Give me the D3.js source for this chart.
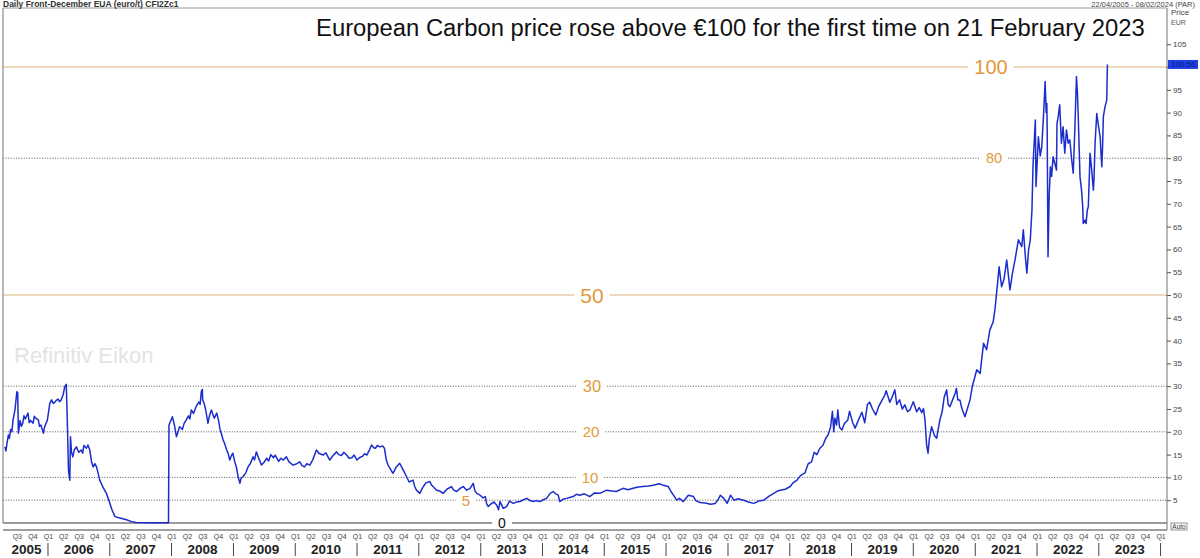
<!DOCTYPE html>
<html><head><meta charset="utf-8">
<script src="https://cdn.jsdelivr.net/npm/d3@7"></script>
<style>
body{margin:0;background:#fff;}
svg{display:block;font-family:Arial,"Liberation Sans",sans-serif;}
</style>
</head><body>
<svg id="c" width="1200" height="558"></svg>
<script>
// ---------- DATA ----------
const phase1 = [["2005-04-22",16.7],["2005-04-28",15.8],["2005-05-02",17.0],["2005-05-12",19.3],["2005-05-18",18.6],["2005-05-25",20.5],["2005-06-02",20.0],["2005-06-08",22.5],["2005-06-20",24.8],["2005-07-01",28.8],["2005-07-06",28.6],["2005-07-10",19.7],["2005-07-15",21.0],["2005-07-20",22.5],["2005-07-28",21.2],["2005-08-05",21.9],["2005-08-12",23.5],["2005-08-20",22.8],["2005-09-05",24.1],["2005-09-12",22.0],["2005-09-20",22.5],["2005-10-05",21.9],["2005-10-12",23.4],["2005-10-20",23.0],["2005-11-05",22.6],["2005-11-12",21.2],["2005-11-20",21.5],["2005-12-05",19.7],["2005-12-12",21.1],["2005-12-28",22.5],["2006-01-05",24.5],["2006-01-12",26.3],["2006-01-22",27.0],["2006-02-01",26.2],["2006-02-10",26.5],["2006-02-20",26.9],["2006-03-01",27.2],["2006-03-10",26.6],["2006-03-20",27.0],["2006-04-01",28.2],["2006-04-10",29.9],["2006-04-19",30.4],["2006-04-24",24.0],["2006-04-27",19.7],["2006-05-02",11.6],["2006-05-10",9.4],["2006-05-14",18.9],["2006-05-20",15.5],["2006-05-28",14.5],["2006-06-05",16.0],["2006-06-18",16.7],["2006-06-28",15.8],["2006-07-01",15.5],["2006-07-16",16.0],["2006-07-25",15.3],["2006-08-01",17.0],["2006-08-16",16.4],["2006-08-25",17.1],["2006-09-05",16.0],["2006-09-15",13.5],["2006-09-25",12.3],["2006-10-05",13.0],["2006-10-15",12.3],["2006-11-03",9.4],["2006-11-20",8.0],["2006-12-12",6.5],["2007-01-01",4.4],["2007-01-15",2.8],["2007-02-01",1.4],["2007-03-01",1.1],["2007-04-10",0.7],["2007-05-10",0.3],["2007-06-06",0.1],["2007-09-01",0.06],["2007-12-14",0.03]];
const phase2 = [["2007-12-17",21.5],["2008-01-06",23.3],["2008-01-18",21.5],["2008-01-30",18.9],["2008-02-10",20.2],["2008-02-18",21.1],["2008-03-05",20.5],["2008-03-15",21.8],["2008-03-28",22.6],["2008-04-10",23.5],["2008-04-18",22.8],["2008-04-27",24.8],["2008-05-10",24.0],["2008-05-25",25.5],["2008-06-10",26.5],["2008-06-18",26.0],["2008-06-25",28.8],["2008-07-01",29.3],["2008-07-03",27.0],["2008-07-12",26.2],["2008-07-20",25.0],["2008-08-03",21.9],["2008-08-12",23.5],["2008-08-24",24.8],["2008-09-03",23.6],["2008-09-10",23.0],["2008-09-24",24.1],["2008-10-05",22.5],["2008-10-12",20.8],["2008-10-22",19.5],["2008-11-01",18.2],["2008-11-10",17.4],["2008-11-22",16.0],["2008-12-01",15.2],["2008-12-10",13.8],["2008-12-20",14.8],["2008-12-28",15.3],["2009-01-08",13.5],["2009-01-18",12.3],["2009-01-28",10.2],["2009-02-08",8.7],["2009-02-15",9.8],["2009-02-27",10.2],["2009-03-15",11.0],["2009-03-28",12.3],["2009-04-10",13.0],["2009-04-27",14.5],["2009-05-05",13.8],["2009-05-16",15.6],["2009-06-01",14.0],["2009-06-16",12.7],["2009-07-01",13.3],["2009-07-16",14.2],["2009-07-28",13.6],["2009-08-10",15.0],["2009-08-25",14.3],["2009-09-04",14.9],["2009-09-25",13.5],["2009-10-08",14.2],["2009-10-22",13.8],["2009-11-10",14.5],["2009-11-25",13.4],["2009-12-19",12.7],["2010-01-10",13.0],["2010-01-28",13.4],["2010-02-10",12.6],["2010-02-25",12.3],["2010-03-10",13.0],["2010-03-28",12.7],["2010-04-15",13.9],["2010-05-06",16.0],["2010-05-20",15.3],["2010-06-15",14.9],["2010-07-01",15.4],["2010-07-24",13.8],["2010-08-10",14.7],["2010-09-02",15.6],["2010-09-15",15.0],["2010-10-01",14.8],["2010-10-15",15.5],["2010-11-01",14.9],["2010-11-15",14.2],["2010-12-01",14.3],["2010-12-15",14.9],["2011-01-01",13.8],["2011-01-15",14.3],["2011-02-01",14.6],["2011-02-15",15.2],["2011-02-28",14.9],["2011-03-15",16.0],["2011-03-28",17.1],["2011-04-10",16.5],["2011-04-20",16.4],["2011-05-01",17.0],["2011-05-15",16.7],["2011-06-01",16.9],["2011-06-12",16.4],["2011-06-22",14.0],["2011-07-03",12.7],["2011-07-15",12.0],["2011-08-01",10.9],["2011-08-10",11.5],["2011-08-21",12.3],["2011-09-10",13.1],["2011-09-20",12.4],["2011-10-01",11.6],["2011-10-20",10.2],["2011-11-05",9.0],["2011-11-28",9.4],["2011-12-08",8.0],["2011-12-18",7.2],["2012-01-07",6.5],["2012-01-18",7.3],["2012-01-28",8.0],["2012-02-12",8.8],["2012-03-06",9.1],["2012-03-15",8.4],["2012-03-25",8.0],["2012-04-15",7.2],["2012-05-05",7.0],["2012-05-24",6.5],["2012-06-15",7.4],["2012-07-12",8.0],["2012-07-25",7.2],["2012-08-12",6.9],["2012-09-01",7.6],["2012-09-20",8.0],["2012-10-10",7.2],["2012-10-30",7.6],["2012-11-18",8.7],["2012-11-28",7.0],["2012-12-09",6.5],["2012-12-28",6.1]];
const phase3 = [["2013-01-15",5.5],["2013-01-28",5.8],["2013-02-05",4.2],["2013-02-15",3.6],["2013-03-06",4.3],["2013-03-20",4.6],["2013-04-06",3.9],["2013-04-16",2.9],["2013-04-25",4.7],["2013-05-14",3.2],["2013-06-03",3.6],["2013-06-20",4.8],["2013-07-12",4.3],["2013-08-01",4.6],["2013-08-21",4.7],["2013-09-10",5.1],["2013-09-30",5.4],["2013-10-15",5.0],["2013-11-08",4.7],["2013-11-25",4.9],["2013-12-17",4.7],["2014-01-05",5.1],["2014-01-25",5.4],["2014-02-15",6.5],["2014-03-05",6.9],["2014-03-20",6.4],["2014-04-04",6.1],["2014-04-13",4.7],["2014-05-01",5.2],["2014-05-23",5.4],["2014-06-10",5.6],["2014-07-01",5.8],["2014-07-20",6.3],["2014-08-10",6.1],["2014-09-05",6.4],["2014-10-07",5.8],["2014-11-05",6.6],["2014-12-06",6.5],["2015-01-15",7.2],["2015-02-15",7.0],["2015-03-13",6.9],["2015-04-22",7.6],["2015-05-20",7.3],["2015-06-20",7.6],["2015-07-20",7.9],["2015-08-18",8.0],["2015-09-20",8.1],["2015-10-17",8.3],["2015-11-20",8.6],["2015-12-15",8.3],["2016-01-14",8.0],["2016-02-01",6.8],["2016-02-14",6.1],["2016-03-04",5.0],["2016-03-20",5.4],["2016-04-12",4.7],["2016-05-01",5.6],["2016-05-12",6.1],["2016-06-11",5.8],["2016-06-25",4.9],["2016-07-20",4.5],["2016-08-20",4.4],["2016-09-20",4.1],["2016-10-18",4.3],["2016-11-05",5.2],["2016-11-17",6.1],["2016-12-07",5.4],["2016-12-27",4.3],["2017-01-16",6.1],["2017-02-05",5.0],["2017-03-01",5.3],["2017-04-04",5.0],["2017-05-01",4.6],["2017-06-03",4.3],["2017-07-01",4.8],["2017-08-01",5.0],["2017-09-01",5.9],["2017-09-29",6.5],["2017-10-20",7.0],["2017-11-07",7.2],["2017-12-05",7.4],["2018-01-04",8.0],["2018-01-20",8.8],["2018-02-13",9.4],["2018-03-05",10.4],["2018-04-01",11.0],["2018-04-20",13.0],["2018-05-10",13.4],["2018-05-25",15.5],["2018-06-10",15.0],["2018-06-28",16.4],["2018-07-15",17.0],["2018-08-01",18.5],["2018-08-15",19.3],["2018-08-30",21.0],["2018-09-10",24.5],["2018-09-18",20.0],["2018-09-25",23.0],["2018-10-05",21.5],["2018-10-12",24.8],["2018-10-22",21.0],["2018-11-05",20.4],["2018-11-20",21.8],["2018-12-10",22.6],["2018-12-20",24.5],["2019-01-08",22.0],["2019-01-22",20.8],["2019-02-10",22.5],["2019-03-03",24.3],["2019-03-20",22.0],["2019-04-05",26.0],["2019-04-18",26.5],["2019-05-05",25.0],["2019-05-24",23.7],["2019-06-10",25.5],["2019-07-01",27.0],["2019-07-16",28.0],["2019-07-25",29.0],["2019-08-15",26.5],["2019-08-28",27.5],["2019-09-14",29.2],["2019-09-25",26.0],["2019-10-12",27.0],["2019-10-28",25.0],["2019-11-12",25.9],["2019-11-28",24.4],["2019-12-12",24.8],["2020-01-01",26.6],["2020-01-21",24.4],["2020-02-05",25.3],["2020-02-20",24.2],["2020-03-01",25.1],["2020-03-10",22.6],["2020-03-20",17.0],["2020-03-28",15.3],["2020-04-05",18.5],["2020-04-18",21.1],["2020-05-05",19.2],["2020-05-18",18.6],["2020-06-06",22.6],["2020-06-20",24.5],["2020-07-01",27.5],["2020-07-16",29.2],["2020-07-25",26.0],["2020-08-04",25.5],["2020-08-20",27.0],["2020-09-05",28.5],["2020-09-12",29.5],["2020-09-20",27.0],["2020-10-02",27.0],["2020-10-15",25.0],["2020-11-01",23.3],["2020-11-15",25.0],["2020-12-01",27.0],["2020-12-15",30.0]];
const phase4 = [["2021-01-10",33.6],["2021-01-30",32.8],["2021-02-10",36.5],["2021-02-19",39.4],["2021-03-09",38.0],["2021-03-28",42.3],["2021-04-17",44.1],["2021-04-28",47.0],["2021-05-07",50.4],["2021-05-14",53.0],["2021-05-22",56.2],["2021-06-06",51.8],["2021-06-20",53.5],["2021-07-06",57.7],["2021-07-25",51.1],["2021-08-10",55.0],["2021-08-24",57.7],["2021-09-13",62.1],["2021-10-03",60.6],["2021-10-12",64.3],["2021-10-25",58.0],["2021-11-02",54.8],["2021-11-12",59.9],["2021-11-22",62.0],["2021-12-02",68.6],["2021-12-08",78.0],["2021-12-12",81.1],["2021-12-22",88.4],["2021-12-26",73.8],["2022-01-03",80.0],["2022-01-09",84.7],["2022-01-20",80.5],["2022-01-29",82.5],["2022-02-08",89.1],["2022-02-18",96.8],["2022-02-24",90.0],["2022-02-28",92.0],["2022-03-02",86.2],["2022-03-07",58.4],["2022-03-14",72.0],["2022-03-21",78.1],["2022-03-28",76.0],["2022-04-06",80.3],["2022-04-15",79.0],["2022-04-26",77.4],["2022-04-29",87.6],["2022-05-06",89.1],["2022-05-15",91.7],["2022-05-25",83.3],["2022-06-04",86.9],["2022-06-09",84.0],["2022-06-14",81.1],["2022-06-24",86.2],["2022-07-04",83.3],["2022-07-14",84.0],["2022-07-25",79.6],["2022-08-03",76.7],["2022-08-13",86.9],["2022-08-22",97.9],["2022-08-28",94.2],["2022-09-01",89.8],["2022-09-12",75.9],["2022-09-21",73.0],["2022-09-28",69.4],["2022-10-01",65.7],["2022-10-11",66.4],["2022-10-18",65.7],["2022-10-25",68.6],["2022-10-31",69.4],["2022-11-06",75.9],["2022-11-10",81.1],["2022-11-20",77.4],["2022-11-30",73.0],["2022-12-04",75.9],["2022-12-10",83.3],["2022-12-20",89.8],["2022-12-28",87.6],["2023-01-09",84.7],["2023-01-14",81.1],["2023-01-19",78.1],["2023-01-24",83.3],["2023-01-28",89.1],["2023-02-07",91.3],["2023-02-17",92.8],["2023-02-19",97.1],["2023-02-21",100.56]];

const yTicks = [5,10,15,20,25,30,35,40,45,50,55,60,65,70,75,80,85,90,95,100,105];
const solidLevels = [100, 50];
const dottedLevels = [80, 30, 20, 10, 5];
const lastPrice = 100.56;
const dateRange = ["2005-04-22", "2024-02-08"];
const years = d3.range(2005, 2024);

const titleText = "European Carbon price rose above €100 for the first time on 21 February 2023";
const headerLeft = "Daily Front-December EUA (euro/t) CFI2Zc1";
const headerRight = "22/04/2005 - 08/02/2024 (PAR)";
const watermark = "Refinitiv Eikon";

// ---------- LAYOUT ----------
const L = {left:3, right:1167, top:8, zeroY:523, axisY:530};
const labelPos = {100:[991,20], 50:[592,21], 80:[994,14.5], 30:[592,16.5], 20:[591,15], 10:[590,15], 5:[466,15], 0:[502,14]};

const parse = d3.timeParse("%Y-%m-%d");
const data = [...phase1, ...phase2, ...phase3, ...phase4].map(d => ({date: parse(d[0]), v: d[1]}));

const svg = d3.select("#c");
svg.append("rect").attr("width",1200).attr("height",558).attr("fill","#fff");

const x = d3.scaleTime().domain(dateRange.map(parse)).range([5, 1167]);
const y = d3.scaleLinear().domain([0, 100]).range([523, 67]);

const orange = "#e3983c";

function levelLine(v, label, style) {
  const [cx, fs] = labelPos[v];
  const t = svg.append("text").attr("x", cx).attr("y", y(v)).attr("dy","0.36em")
    .attr("text-anchor","middle").attr("font-size", fs)
    .attr("fill", v === 0 ? "#111" : orange).text(label);
  const w = t.node().getComputedTextLength();
  const segs = [[L.left, cx - w/2 - 6], [cx + w/2 + 6, L.right]];
  segs.forEach(s => {
    const ln = svg.insert("line", "text").attr("x1", s[0]).attr("x2", s[1])
      .attr("y1", y(v)).attr("y2", y(v));
    if (style === "solid") ln.attr("stroke", "#e9cda4").attr("stroke-width", 1.6);
    else if (style === "zero") ln.attr("stroke", "#9a9a9a").attr("stroke-width", 2.2);
    else ln.attr("stroke", "#5a5a5a").attr("stroke-width", 1).attr("stroke-dasharray", "1,1.6");
  });
}

svg.append("text").attr("x", 14).attr("y", 363).attr("font-size", 22)
  .attr("fill", "#e3e3e3").text(watermark);

solidLevels.forEach(v => levelLine(v, String(v), "solid"));
dottedLevels.forEach(v => levelLine(v, String(v), "dotted"));
levelLine(0, "0", "zero");

// frame
svg.append("line").attr("x1", L.left).attr("x2", L.right).attr("y1", L.top).attr("y2", L.top)
  .attr("stroke", "#9a9a9a").attr("stroke-width", 1);
svg.append("line").attr("x1", L.left).attr("x2", L.left).attr("y1", L.top).attr("y2", L.zeroY)
  .attr("stroke", "#8a8a8a").attr("stroke-width", 1.2);
svg.append("line").attr("x1", L.left).attr("x2", L.right).attr("y1", L.axisY).attr("y2", L.axisY)
  .attr("stroke", "#a0a0a0").attr("stroke-width", 1.8);
svg.append("line").attr("x1", L.right).attr("x2", L.right).attr("y1", L.top).attr("y2", L.axisY)
  .attr("stroke", "#8a8a8a").attr("stroke-width", 1.2);

// price line
const line = d3.line().x(d => x(d.date)).y(d => y(d.v));
svg.append("path").datum(data).attr("d", line).attr("fill", "none")
  .attr("stroke", "#1b2dcc").attr("stroke-width", 1.5).attr("stroke-linejoin","round");

// right axis (the 100 label is covered by the last-price box in the reference)
const ra = svg.append("g").attr("transform", `translate(${L.right},0)`)
  .call(d3.axisRight(y).tickValues(yTicks).tickSize(4).tickPadding(2)
    .tickFormat(d => d === 100 ? "" : d3.format("d")(d)));
ra.select(".domain").remove();
ra.selectAll("line").attr("stroke", "#555");
ra.selectAll("text").attr("font-size", 8).attr("fill", "#444").attr("font-family","Arial, sans-serif");
svg.append("text").attr("x", 1171).attr("y", 15).attr("font-size", 8).attr("fill","#444").text("Price");
svg.append("text").attr("x", 1171).attr("y", 25).attr("font-size", 7).attr("fill","#555").text("EUR");

// last price box
svg.append("rect").attr("x", L.right+1).attr("y", y(lastPrice)-4.5).attr("width", 30).attr("height", 9)
  .attr("fill", "#1d3fe3");
svg.append("text").attr("x", L.right+4).attr("y", y(lastPrice)+3).attr("font-size", 8)
  .attr("fill", "#0b1a7a").text(d3.format(".2f")(lastPrice));

// Auto box
svg.append("rect").attr("x", 1171).attr("y", 523).attr("width", 16).attr("height", 7)
  .attr("fill", "#fff").attr("stroke", "#777").attr("stroke-width", 0.8);
svg.append("text").attr("x", 1179).attr("y", 529).attr("text-anchor","middle").attr("font-size", 6.5)
  .attr("fill", "#333").text("Auto");

// x axis: quarters
const qa = svg.append("g").attr("transform", `translate(0,${L.axisY+3})`)
  .call(d3.axisBottom(x).ticks(d3.timeMonth.every(3)).tickSize(0).tickPadding(1)
    .tickFormat(d => "Q" + (Math.floor(d.getMonth()/3) + 1)));
qa.select(".domain").remove();
qa.selectAll("text").attr("font-size", 7).attr("fill", "#444").attr("font-family","Arial, sans-serif");

// year labels and separators
const [d0, d1] = x.domain();
years.forEach(yr => {
  const s = new Date(yr, 0, 1), e = new Date(yr + 1, 0, 1);
  const xs = x(s < d0 ? d0 : s), xe = x(e > d1 ? d1 : e);
  svg.append("text").attr("x", (xs + xe) / 2).attr("y", 554).attr("text-anchor","middle")
    .attr("font-size", 13.5).attr("font-weight","bold").attr("fill","#222").text(yr);
});
d3.range(2006, 2025).forEach(yr => {
  const xx = x(new Date(yr, 0, 1));
  svg.append("line").attr("x1", xx).attr("x2", xx).attr("y1", 543).attr("y2", 556)
    .attr("stroke", "#444").attr("stroke-width", 1);
});

// headers
svg.append("text").attr("x", 3).attr("y", 6.5).attr("font-size", 8.5).attr("font-weight","bold")
  .attr("fill", "#333").text(headerLeft);
svg.append("text").attr("x", 1195).attr("y", 6.5).attr("text-anchor","end").attr("font-size", 7.5)
  .attr("fill", "#444").text(headerRight);

// title
const tt = svg.append("text").attr("x", 316).attr("y", 36).attr("font-size", 22).attr("fill", "#111").text(titleText);
const tw = tt.node().getComputedTextLength();
tt.attr("font-size", 22 * 829 / tw);
</script>
</body></html>
